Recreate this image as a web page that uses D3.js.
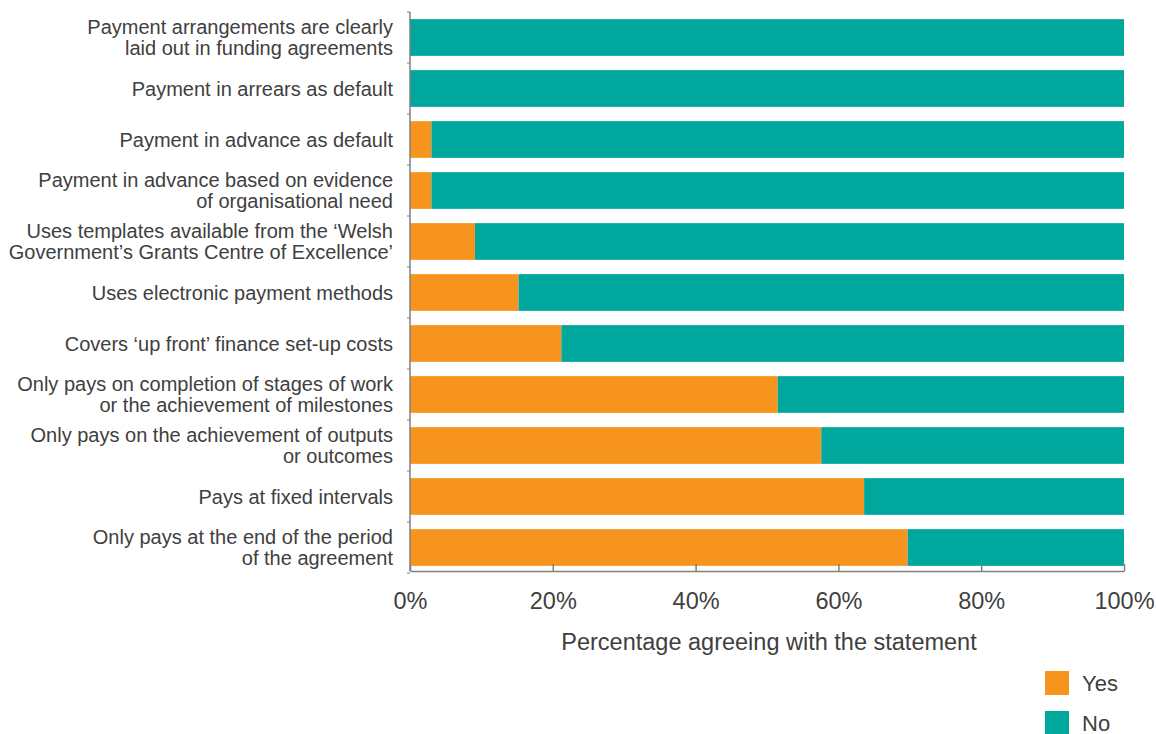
<!DOCTYPE html>
<html lang="en">
<head>
<meta charset="UTF-8">
<title>Payment arrangements</title>
<script src="https://cdn.jsdelivr.net/npm/d3@7"></script>
<style>
  body { margin: 0; background: #fff; }
  text { font-family: "Liberation Sans", Arial, sans-serif; fill: #404040; }
</style>
</head>
<body>
<svg width="1156" height="734"></svg>
<script>
// categories (top to bottom), each label split into lines
var categories = [
  ["Payment arrangements are clearly", "laid out in funding agreements"],
  ["Payment in arrears as default"],
  ["Payment in advance as default"],
  ["Payment in advance based on evidence", "of organisational need"],
  ["Uses templates available from the \u2018Welsh", "Government\u2019s Grants Centre of Excellence\u2019"],
  ["Uses electronic payment methods"],
  ["Covers \u2018up front\u2019 finance set-up costs"],
  ["Only pays on completion of stages of work", "or the achievement of milestones"],
  ["Only pays on the achievement of outputs", "or outcomes"],
  ["Pays at fixed intervals"],
  ["Only pays at the end of the period", "of the agreement"]
];
// percentage answering yes / no
var yesValues = [0, 0, 3.0, 3.0, 9.1, 15.2, 21.2, 51.5, 57.6, 63.6, 69.7];
var noValues  = [100, 100, 97.0, 97.0, 90.9, 84.8, 78.8, 48.5, 42.4, 36.4, 30.3];
var xTicks = [0, 20, 40, 60, 80, 100];
var seriesNames = ["Yes", "No"];
var colors = ["#F7941D", "#00A79D"];

var svg = d3.select("svg");
var mLeft = 410, mRight = 1124, mTop = 12, mBottom = 573, axisY = 571;

var x = d3.scaleLinear().domain([0, 100]).range([mLeft, mRight]);
var y = d3.scaleBand().domain(d3.range(categories.length))
  .range([mTop, mBottom]).paddingInner(0.28).paddingOuter(0.14);

// bars
var rows = svg.append("g").selectAll("g").data(categories).enter().append("g");
rows.append("rect")
  .attr("x", x(0))
  .attr("y", function(d, i) { return y(i); })
  .attr("width", function(d, i) { return x(yesValues[i]) - x(0); })
  .attr("height", y.bandwidth())
  .attr("fill", colors[0]);
rows.append("rect")
  .attr("x", function(d, i) { return x(yesValues[i]); })
  .attr("y", function(d, i) { return y(i); })
  .attr("width", function(d, i) { return x(yesValues[i] + noValues[i]) - x(yesValues[i]); })
  .attr("height", y.bandwidth())
  .attr("fill", colors[1]);

// category labels
rows.append("text")
  .attr("text-anchor", "end")
  .attr("font-size", 20)
  .each(function(d, i) {
    var t = d3.select(this);
    var cy = y(i) + y.bandwidth() / 2;
    var lh = 21;
    d.forEach(function(line, j) {
      t.append("tspan")
        .attr("x", 393)
        .attr("y", cy + (j - (d.length - 1) / 2) * lh + 7)
        .text(line);
    });
  });

// x axis
var xAxis = d3.axisBottom(x).tickValues(xTicks)
  .tickFormat(function(d) { return d + "%"; })
  .tickSizeInner(-7).tickSizeOuter(0).tickPadding(21);
var gx = svg.append("g").attr("transform", "translate(0," + axisY + ")").call(xAxis);
gx.selectAll("line, path").attr("stroke", "#7f7f7f").attr("stroke-width", 1.5);
gx.selectAll("text").attr("font-size", 23.5).attr("fill", "#404040")
  .style("font-family", "'Liberation Sans', Arial, sans-serif");

// y axis line with small ticks between bands
var yLine = svg.append("g");
yLine.append("line")
  .attr("x1", mLeft).attr("x2", mLeft).attr("y1", mTop).attr("y2", axisY)
  .attr("stroke", "#7f7f7f").attr("stroke-width", 1.5);
yLine.selectAll(".yt").data(d3.range(categories.length + 1)).enter().append("line")
  .attr("x1", mLeft - 3).attr("x2", mLeft)
  .attr("y1", function(i) { return mTop + i * y.step(); })
  .attr("y2", function(i) { return mTop + i * y.step(); })
  .attr("stroke", "#7f7f7f").attr("stroke-width", 1);

// axis title
svg.append("text")
  .attr("x", (mLeft + mRight) / 2 + 2).attr("y", 650)
  .attr("text-anchor", "middle").attr("font-size", 23.5)
  .text("Percentage agreeing with the statement");

// legend
var lg = svg.append("g").selectAll("g").data(seriesNames).enter().append("g")
  .attr("transform", function(d, i) { return "translate(1045," + (671 + i * 40) + ")"; });
lg.append("rect").attr("width", 24).attr("height", 24)
  .attr("fill", function(d, i) { return colors[i]; });
lg.append("text").attr("x", 37).attr("y", 20).attr("font-size", 22)
  .text(function(d) { return d; });
</script>
</body>
</html>
